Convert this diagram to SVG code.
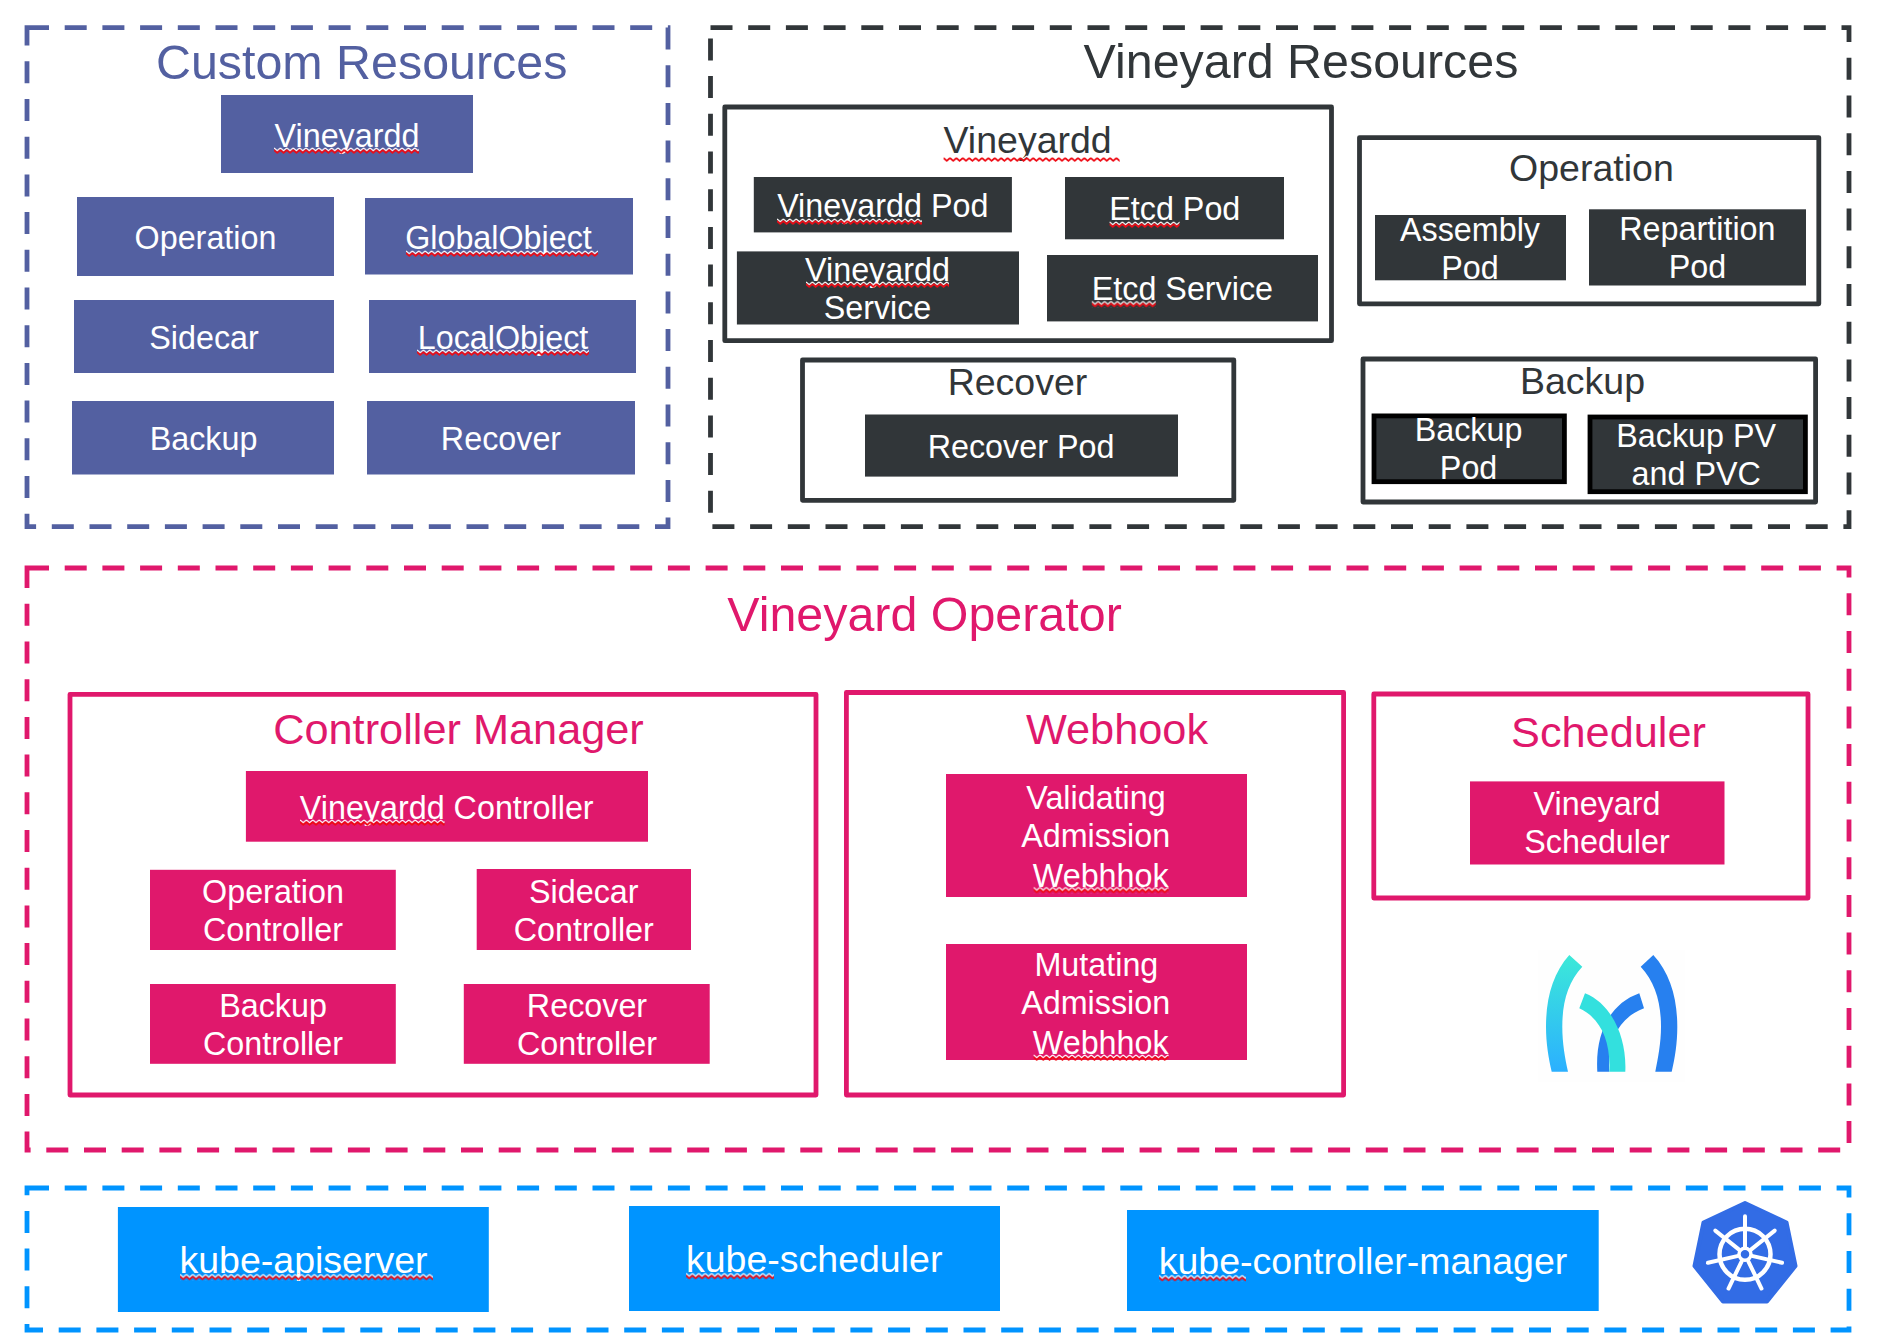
<svg xmlns="http://www.w3.org/2000/svg" width="1880" height="1344" viewBox="0 0 1880 1344">
<style>
text{font-family:"Liberation Sans",Arial,sans-serif;text-anchor:middle}
.dash{fill:none;stroke-width:4.8;stroke-dasharray:22 15.7}
.box{fill:#fff;stroke-width:4.8;stroke-linejoin:round}
.t48{font-size:48.4px}.t43{font-size:43.3px}.t37{font-size:37.5px}.t32{font-size:32.3px;fill:#fff}
.wh{fill:#fff}
.pu{fill:#5360a1}.dk{fill:#313639}.pk{fill:#e0186c}.bl{fill:#0094ff}
.spu{stroke:#5360a1}.sdk{stroke:#313639}.spk{stroke:#e0186c}.sbl{stroke:#0094ff}
.blk{stroke:#000;stroke-width:4.8}
.sq{fill:url(#squiggle)}
</style>
<defs>
<pattern id="squiggle" width="6.4" height="7" patternUnits="userSpaceOnUse">
<path d="M0,1 L3.2,3.8 L6.4,1" fill="none" stroke="#fff" stroke-width="1.2"/>
<path d="M0,3 L3.2,5.8 L6.4,3" fill="none" stroke="#ee0a14" stroke-width="1.7"/>
</pattern>
<linearGradient id="logoGrad" x1="0" y1="0" x2="0" y2="1">
<stop offset="0" stop-color="#3ce9d8"/><stop offset="1" stop-color="#2bb0ff"/>
</linearGradient>
<line id="spoke" x1="0" y1="-8" x2="0" y2="-38" stroke="#fff" stroke-width="4" stroke-linecap="round"/>
</defs>
<rect width="1880" height="1344" fill="#fff"/>

<g id="custom-resources">
<rect class="dash spu" x="27" y="27.6" width="641" height="499"/>
<text class="t48 pu" x="361.7" y="78.5">Custom Resources</text>
<g id="cr-vineyardd"><rect class="pu" x="221" y="95" width="252" height="78"/><text class="t32" x="347" y="147.300">Vineyardd</text><rect class="sq" width="145" height="7" transform="translate(274,147)"/></g>
<g id="cr-operation"><rect class="pu" x="77" y="197" width="257" height="79"/><text class="t32" x="205.5" y="249">Operation</text></g>
<g id="cr-globalobject"><rect class="pu" x="365" y="198" width="268" height="76.500"/><text class="t32" x="498.500" y="249">GlobalObject</text><rect class="sq" width="192" height="7" transform="translate(406,250)"/></g>
<g id="cr-sidecar"><rect class="pu" x="74" y="300" width="260" height="73"/><text class="t32" x="204" y="349">Sidecar</text></g>
<g id="cr-localobject"><rect class="pu" x="369" y="300" width="267" height="73"/><text class="t32" x="503" y="349">LocalObject</text><rect class="sq" width="172" height="7" transform="translate(417,349)"/></g>
<g id="cr-backup"><rect class="pu" x="72" y="401" width="262" height="73.500"/><text class="t32" x="203.500" y="450">Backup</text></g>
<g id="cr-recover"><rect class="pu" x="367" y="401" width="268" height="73.500"/><text class="t32" x="501" y="450">Recover</text></g>
</g>

<g id="vineyard-resources">
<rect class="dash sdk" x="710.500" y="27.600" width="1138.500" height="499"/>
<text class="t48 dk" x="1301" y="78">Vineyard Resources</text>
<g id="vr-vineyardd">
<rect class="box sdk" x="724.800" y="107" width="606.700" height="233.700"/>
<text class="t37 dk" x="1027.600" y="153">Vineyardd</text><rect class="sq" width="176" height="7" transform="translate(943.600,155)"/>
<g id="vineyardd-pod"><rect class="dk" x="753.800" y="177" width="258.100" height="55.400"/><text class="t32" x="882.800" y="216.500">Vineyardd Pod</text><rect class="sq" width="145" height="7" transform="translate(777,218)"/></g>
<g id="etcd-pod"><rect class="dk" x="1065" y="177" width="219" height="62.300"/><text class="t32" x="1174.800" y="220">Etcd Pod</text><rect class="sq" width="70" height="7" transform="translate(1109.600,221)"/></g>
<g id="vineyardd-service"><rect class="dk" x="736.900" y="251.400" width="282.100" height="73.100"/><text class="t32" x="877.500"><tspan x="877.500" y="281">Vineyardd</tspan><tspan x="877.500" y="319">Service</tspan></text><rect class="sq" width="143" height="7" transform="translate(806,281)"/></g>
<g id="etcd-service"><rect class="dk" x="1047" y="255" width="271" height="66.400"/><text class="t32" x="1182.400" y="300.300">Etcd Service</text><rect class="sq" width="64" height="7" transform="translate(1091.800,300.500)"/></g>
</g>
<g id="vr-recover">
<rect class="box sdk" x="802.500" y="360" width="431.300" height="140.300"/>
<text class="t37 dk" x="1017.500" y="394.800">Recover</text>
<g id="recover-pod"><rect class="dk" x="865" y="414.500" width="313" height="62.100"/><text class="t32" x="1021" y="458">Recover Pod</text></g>
</g>
<g id="vr-operation">
<rect class="box sdk" x="1359.500" y="137.600" width="459.300" height="166.200"/>
<text class="t37 dk" x="1591.400" y="181">Operation</text>
<g id="assembly-pod"><rect class="dk" x="1375" y="215" width="191" height="65.300"/><text class="t32"><tspan x="1470" y="240.700">Assembly</tspan><tspan x="1470" y="278.600">Pod</tspan></text></g>
<g id="repartition-pod"><rect class="dk" x="1589" y="209.300" width="217" height="76.200"/><text class="t32"><tspan x="1697.400" y="239.700">Repartition</tspan><tspan x="1697.400" y="277.600">Pod</tspan></text></g>
</g>
<g id="vr-backup">
<rect class="box sdk" x="1363" y="359" width="452.600" height="143"/>
<text class="t37 dk" x="1582.500" y="394">Backup</text>
<g id="backup-pod"><rect class="dk blk" x="1374" y="415.900" width="190.400" height="65.800"/><text class="t32"><tspan x="1468.600" y="440.700">Backup</tspan><tspan x="1468.600" y="478.600">Pod</tspan></text></g>
<g id="backup-pv"><rect class="dk blk" x="1590" y="417" width="215.400" height="74.700"/><text class="t32"><tspan x="1696.200" y="446.600">Backup PV</tspan><tspan x="1696.200" y="484.500">and PVC</tspan></text></g>
</g>
</g>

<g id="vineyard-operator">
<rect class="dash spk" x="27" y="568" width="1822" height="582"/>
<text class="t48 pk" x="924.500" y="631.200">Vineyard Operator</text>
<g id="controller-manager">
<rect class="box spk" x="70" y="694.300" width="746" height="400.700"/>
<text class="t43 pk" x="458.500" y="744.200">Controller Manager</text>
<g id="vineyardd-controller"><rect class="pk" x="245.900" y="771" width="402.100" height="70.700"/><text class="t32" x="446.700" y="818.800">Vineyardd Controller</text><rect class="sq" width="144.600" height="7" transform="translate(300,819)"/></g>
<g id="operation-controller"><rect class="pk" x="150" y="869.800" width="245.800" height="80.200"/><text class="t32"><tspan x="273" y="902.600">Operation</tspan><tspan x="273" y="940.500">Controller</tspan></text></g>
<g id="sidecar-controller"><rect class="pk" x="476.700" y="869" width="214.300" height="81"/><text class="t32"><tspan x="583.800" y="902.600">Sidecar</tspan><tspan x="583.800" y="940.500">Controller</tspan></text></g>
<g id="backup-controller"><rect class="pk" x="150" y="984" width="245.800" height="79.800"/><text class="t32"><tspan x="273" y="1017.300">Backup</tspan><tspan x="273" y="1055">Controller</tspan></text></g>
<g id="recover-controller"><rect class="pk" x="463.800" y="984" width="245.900" height="79.800"/><text class="t32"><tspan x="587" y="1017.300">Recover</tspan><tspan x="587" y="1055">Controller</tspan></text></g>
</g>
<g id="webhook">
<rect class="box spk" x="846.400" y="692.500" width="497.200" height="402.500"/>
<text class="t43 pk" x="1117" y="743.600">Webhook</text>
<g id="validating-webhook"><rect class="pk" x="946" y="774" width="301" height="123"/><text class="t32"><tspan x="1096" y="809">Validating</tspan><tspan x="1095.700" y="847">Admission</tspan><tspan x="1100.700" y="886.800">Webhhok</tspan></text><rect class="sq" width="135" height="7" transform="translate(1033.600,886.500)"/></g>
<g id="mutating-webhook"><rect class="pk" x="946" y="944" width="301" height="116"/><text class="t32"><tspan x="1096.400" y="975.700">Mutating</tspan><tspan x="1095.700" y="1013.600">Admission</tspan><tspan x="1100.700" y="1053.600">Webhhok</tspan></text><rect class="sq" width="135" height="7" transform="translate(1033.600,1054)"/></g>
</g>
<g id="scheduler">
<rect class="box spk" x="1373.800" y="694" width="434.200" height="204"/>
<text class="t43 pk" x="1608.500" y="747.200">Scheduler</text>
<g id="vineyard-scheduler"><rect class="pk" x="1470" y="781.400" width="254.500" height="83.100"/><text class="t32"><tspan x="1597" y="814.800">Vineyard</tspan><tspan x="1597" y="852.800">Scheduler</tspan></text></g>
</g>
<g id="vineyard-logo">
<rect x="1538" y="950" width="147" height="132" fill="#fefefe"/>
<path d="M1569.300,955 L1582.300,966.700 C1568,982 1562.300,1002 1562.300,1026.700 C1562.300,1043 1565,1058 1568,1071.700 L1551.700,1071.700 C1548.500,1058 1546,1043 1546,1026.700 C1546,998 1553,973 1569.300,955 Z" fill="url(#logoGrad)"/>
<path d="M1653.300,955 L1640.700,966.700 C1655,982 1661,1002 1661,1026.700 C1661,1043 1658,1058 1655.300,1071.700 L1671.700,1071.700 C1675,1058 1677.300,1043 1677.300,1026.700 C1677.300,998 1670,973 1653.300,955 Z" fill="#2780ef"/>
<path d="M1639.300,993.300 C1612,1003 1595,1030 1597.300,1071.700 L1609.300,1071.700 C1607,1040 1620,1017 1644,1008.300 Z" fill="#2780ef"/>
<path d="M1585,993.300 C1610,1003 1627,1035 1625.300,1071.700 L1609.300,1071.700 C1611,1040 1600,1018 1579.300,1008.300 Z" fill="#33e0de"/>
</g>
</g>

<g id="kubernetes">
<rect class="dash sbl" x="27" y="1188" width="1822" height="142"/>
<g id="kube-apiserver"><rect class="bl" x="117.900" y="1207" width="370.900" height="105"/><text class="t37 wh" x="303.500" y="1273.300">kube-apiserver</text><rect class="sq" width="253" height="7" transform="translate(180,1273.500)"/></g>
<g id="kube-scheduler"><rect class="bl" x="629" y="1206" width="371" height="105"/><text class="t37 wh" x="814.200" y="1271.700">kube-scheduler</text><rect class="sq" width="88" height="7" transform="translate(686,1272.500)"/></g>
<g id="kube-controller-manager"><rect class="bl" x="1127" y="1210" width="471.700" height="101"/><text class="t37 wh" x="1363" y="1274">kube-controller-manager</text><rect class="sq" width="87" height="7" transform="translate(1159,1274.500)"/></g>
<g id="kubernetes-logo">
<polygon points="1745,1203 1786.500,1222.500 1795.500,1266 1767,1301.500 1723,1301.500 1694.500,1266 1703.500,1222.500" fill="#326ce5" stroke="#326ce5" stroke-width="4" stroke-linejoin="round"/>
<circle cx="1745" cy="1254.300" r="25.500" fill="none" stroke="#fff" stroke-width="4.500"/>
<circle cx="1745" cy="1254.300" r="6" fill="#326ce5" stroke="#fff" stroke-width="3.500"/>
<g transform="translate(1745,1254.300)">
<use href="#spoke"/>
<use href="#spoke" transform="rotate(51.430)"/>
<use href="#spoke" transform="rotate(102.860)"/>
<use href="#spoke" transform="rotate(154.290)"/>
<use href="#spoke" transform="rotate(205.710)"/>
<use href="#spoke" transform="rotate(257.140)"/>
<use href="#spoke" transform="rotate(308.570)"/>
</g>
</g>
</g>
</svg>
